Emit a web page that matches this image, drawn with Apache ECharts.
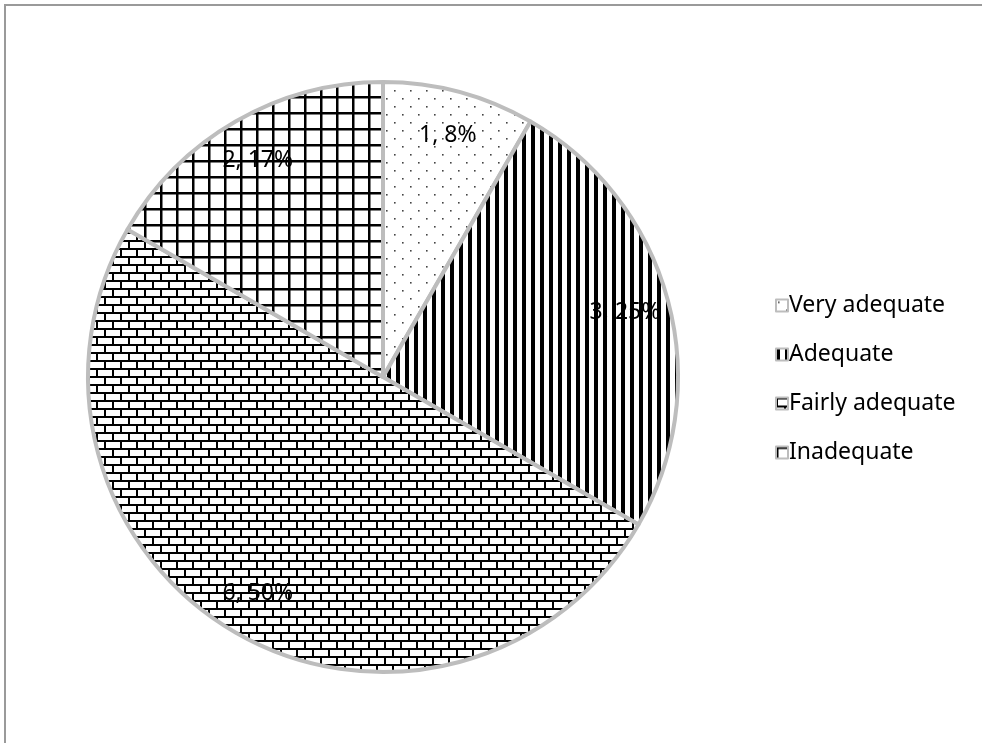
<!DOCTYPE html>
<html>
<head>
<meta charset="utf-8">
<script src="https://cdn.jsdelivr.net/npm/echarts@6/dist/echarts.min.js"></script>
<style>
html,body{margin:0;padding:0;background:#fff;overflow:hidden;}
#chart{width:982px;height:743px;}
</style>
</head>
<body>
<div id="chart"></div>
<script>
const categories = ['Very adequate', 'Adequate', 'Fairly adequate', 'Inadequate'];
const values = [1, 3, 6, 2];

function mk(w, h, draw) {
  const c = document.createElement('canvas');
  c.width = w; c.height = h;
  const g = c.getContext('2d');
  g.fillStyle = '#fff'; g.fillRect(0, 0, w, h);
  draw(g);
  return c;
}
const dots = mk(16, 16, g => {
  g.fillStyle = '#444';
  g.fillRect(2, 2, 1.6, 1.6);
  g.fillRect(10, 10, 1.6, 1.6);
});
const stripes = mk(9, 9, g => {
  g.fillStyle = '#000';
  g.fillRect(0, 0, 4, 9);
});
const bricks = mk(16, 16, g => {
  g.fillStyle = '#000';
  g.fillRect(0, 0, 16, 2);
  g.fillRect(0, 8, 16, 2);
  g.fillRect(0, 0, 2, 8);
  g.fillRect(8, 8, 2, 8);
});
const grid = mk(16, 16, g => {
  g.fillStyle = '#000';
  g.fillRect(0, 0, 16, 2.5);
  g.fillRect(0, 0, 2.5, 16);
});
const patterns = [dots, stripes, bricks, grid].map(c => ({ image: c, repeat: 'repeat' }));

const data = categories.map((n, i) => ({ name: n, value: values[i], itemStyle: { color: patterns[i] } }));
const labelData = categories.map((n, i) => ({ name: n, value: values[i] }));

const chart = echarts.init(document.getElementById('chart'), null, { renderer: 'canvas' });
chart.setOption({
  animation: false,
  backgroundColor: '#fff',
  graphic: [{
    type: 'line', silent: true,
    shape: { x1: 4, y1: 5, x2: 990, y2: 5 },
    style: { stroke: '#9a9a9a', lineWidth: 2 }
  }, {
    type: 'line', silent: true,
    shape: { x1: 5, y1: 4, x2: 5, y2: 750 },
    style: { stroke: '#9a9a9a', lineWidth: 2 }
  }],
  legend: {
    orient: 'vertical',
    left: 770,
    top: 289,
    itemWidth: 12,
    itemHeight: 12,
    itemGap: 26,
    icon: 'rect',
    selectedMode: false,
    data: categories,
    textStyle: { fontFamily: 'Noto Sans', fontSize: 23, color: '#000', padding: [0, 0, 0, -4], lineHeight: 22 }
  },
  series: [{
    type: 'pie',
    center: [383, 377],
    radius: [0, 295],
    startAngle: 90,
    clockwise: true,
    silent: true,
    percentPrecision: 0,
    label: { show: false },
    labelLine: { show: false },
    itemStyle: { borderColor: '#bdbdbd', borderWidth: 4 },
    emphasis: { disabled: true },
    data: data
  }, {
    type: 'pie',
    center: [383, 377],
    radius: [200, 295],
    startAngle: 90,
    clockwise: true,
    silent: true,
    percentPrecision: 0,
    itemStyle: { color: 'rgba(0,0,0,0)' },
    label: {
      show: true, position: 'inside',
      formatter: '{c}, {d}%',
      fontFamily: 'Noto Sans', fontSize: 23, color: '#000'
    },
    labelLine: { show: false },
    emphasis: { disabled: true },
    data: labelData
  }]
});
</script>
</body>
</html>
